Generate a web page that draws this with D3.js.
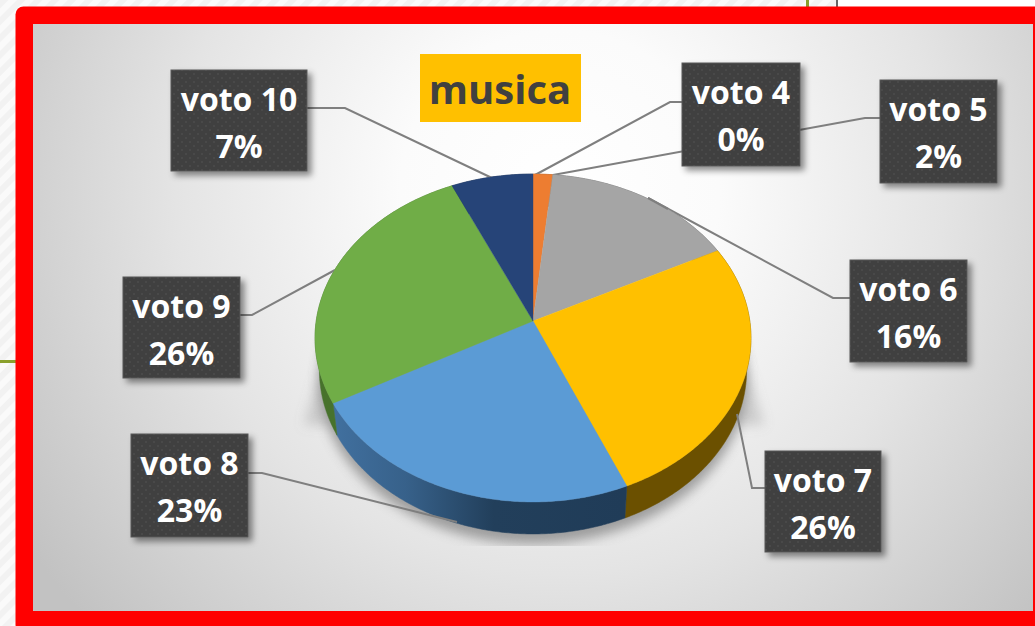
<!DOCTYPE html>
<html><head><meta charset="utf-8">
<script src="https://cdn.jsdelivr.net/npm/d3@7/dist/d3.min.js"></script>
<style>html,body{margin:0;padding:0;background:#fff;overflow:hidden}svg{display:block}</style>
</head><body><div id="chart"></div>
<script>
const categories = ["voto 4","voto 5","voto 6","voto 7","voto 8","voto 9","voto 10"];
const values = [0,1.6,15.9,26.1,23.4,26.3,6.7];
const topColors = ["#4472c4","#ed7d31","#a5a5a5","#ffc000","#5b9bd5","#70ad47","#264478"];
const sideColors = ["#2a4474","#8f4b1d","#636363","#6b5000","url(#blueSide)","#47722c","#162a4a"];
const title = "musica";

// label box layout: x, y, w, h
const boxes = [[682,63,118,103],[880,80,117,103],[850,260,117,102],[765,451,116,101],[131,434,117,103],[123,277,117,101],[171,70,136,101]];
// leader polylines
const leaders = [
  [[682,102],[670,102],[535,175]],
  [[880,118],[865,118],[553,175]],
  [[850,298],[833,298],[648,198]],
  [[765,488],[752,488],[737,414]],
  [[248,473],[262,473],[457,522]],
  [[240,315],[252,315],[335,270]],
  [[307,108],[345,108],[492,178]]
];

const W=1035,H=626;
const cx=533, cy=321, R=216.8, S=162.2, k=0.1037, depth=32, shrink=0.98;
const sx=d3.scaleLinear().domain([-1,1]).range([cx-R,cx+R]);
const sy=d3.scaleLinear().domain([-1,1]).range([cy-S,cy+S]);
const project=a=>{const X=Math.sin(a),Y=-Math.cos(a),d=1-k*Y;return [sx(X/d),sy(Y/d)];};
const lower=p=>[cx+(p[0]-cx)*shrink,p[1]+depth];
const line=d3.line();
const arcs=d3.pie().sort(null).value(d=>d)(values);
const steps=(a,b)=>{const n=Math.max(2,Math.ceil((b-a)/0.01));return d3.range(n+1).map(i=>a+(b-a)*i/n);};

const svg=d3.select("#chart").append("svg").attr("width",W).attr("height",H);
const defs=svg.append("defs");
const hatch=defs.append("pattern").attr("id","hatch").attr("width",12).attr("height",12).attr("patternUnits","userSpaceOnUse").attr("patternTransform","rotate(-45)");
hatch.append("rect").attr("width",12).attr("height",12).attr("fill","#fafafa");
hatch.append("rect").attr("width",12).attr("height",6).attr("fill","#f2f2f2");
const dots=defs.append("pattern").attr("id","dots").attr("width",8).attr("height",8).attr("patternUnits","userSpaceOnUse");
dots.append("rect").attr("width",8).attr("height",8).attr("fill","#3f3f3f");
dots.append("circle").attr("cx",2).attr("cy",2).attr("r",1).attr("fill","#4d4d4d");
dots.append("circle").attr("cx",6).attr("cy",6).attr("r",1).attr("fill","#4d4d4d");
const bg=defs.append("radialGradient").attr("id","panel").attr("gradientUnits","userSpaceOnUse").attr("cx",560).attr("cy",190).attr("r",640);
[[0,"#ffffff"],[0.25,"#fbfbfb"],[0.6,"#e4e4e4"],[1,"#c2c2c2"]].forEach(s=>bg.append("stop").attr("offset",s[0]).attr("stop-color",s[1]));
const bs=defs.append("linearGradient").attr("id","blueSide").attr("gradientUnits","userSpaceOnUse").attr("x1",333).attr("x2",625).attr("y1",0).attr("y2",0);
[[0,"#41709f"],[0.25,"#37618a"],[0.55,"#223f5b"],[1,"#203c58"]].forEach(s=>bs.append("stop").attr("offset",s[0]).attr("stop-color",s[1]));
const sg=defs.append("linearGradient").attr("id","shadowFade").attr("x1",0).attr("x2",0).attr("y1",0).attr("y2",1);
[[0,0],[0.5,0.3],[1,0.32]].forEach(s=>sg.append("stop").attr("offset",s[0]).attr("stop-color","#888").attr("stop-opacity",s[1]));
defs.append("filter").attr("id","blur").attr("x","-20%").attr("y","-20%").attr("width","140%").attr("height","140%").append("feGaussianBlur").attr("stdDeviation",6);
const ds=defs.append("filter").attr("id","boxShadow").attr("x","-20%").attr("y","-20%").attr("width","140%").attr("height","140%");
ds.append("feDropShadow").attr("dx",4).attr("dy",4).attr("stdDeviation",3).attr("flood-color","#000").attr("flood-opacity",0.45);
defs.append("clipPath").attr("id","shadowClip").append("rect").attr("x",290).attr("y",320).attr("width",490).attr("height",226);

// page behind the frame
svg.append("rect").attr("width",W).attr("height",H).attr("fill","url(#hatch)");
svg.append("rect").attr("x",838).attr("width",W-838).attr("height",10).attr("fill","#fff");
svg.append("rect").attr("x",806).attr("width",3).attr("height",10).attr("fill","#8aa02c");
svg.append("rect").attr("x",836).attr("width",2).attr("height",10).attr("fill","#666");
svg.append("rect").attr("x",0).attr("y",360).attr("width",20).attr("height",3).attr("fill","#8aa02c");

// frame and panel
svg.append("rect").attr("x",15.5).attr("y",6.5).attr("width",W).attr("height",H).attr("rx",8).attr("fill","#ff0000");
svg.append("rect").attr("x",33).attr("y",24).attr("width",1000).attr("height",587).attr("fill","url(#panel)");

// pie shadow
const rimAll=steps(0,2*Math.PI).map(project);
const shadowG=svg.append("g").attr("clip-path","url(#shadowClip)");
shadowG.append("path").attr("d",line([[332,330],[736,330],[764,425],[304,425]])+"Z").attr("fill","url(#shadowFade)").attr("filter","url(#blur)");
shadowG.append("path").attr("d",line(rimAll.map(p=>[cx+(p[0]-cx)*0.98,p[1]+depth+10]))+"Z").attr("fill","#8a8a8a").attr("opacity",0.8).attr("filter","url(#blur)");

// side wall
arcs.forEach((d,i)=>{
  const rim=steps(d.startAngle,d.endAngle).map(project);
  if(d.endAngle===d.startAngle)return;
  svg.append("path").attr("d",line(rim.concat(rim.map(lower).reverse()))+"Z").attr("fill",sideColors[i]).attr("stroke",sideColors[i]).attr("stroke-width",0.5);
});

// leaders (under the boxes, over the background)
svg.append("g").selectAll("path").data(leaders).join("path").attr("d",d=>line(d)).attr("fill","none").attr("stroke","#7f7f7f").attr("stroke-width",2);

// top face
arcs.forEach((d,i)=>{
  if(d.endAngle===d.startAngle)return;
  const rim=steps(d.startAngle,d.endAngle).map(project);
  svg.append("path").attr("d",line([[sx(0),sy(0)]].concat(rim))+"Z").attr("fill",topColors[i]).attr("stroke",topColors[i]).attr("stroke-width",0.4);
});
// leader end that sits on top of the pie
svg.append("path").attr("d",line([[648,198],[668,209]])).attr("fill","none").attr("stroke","#7f7f7f").attr("stroke-width",2);

// title
svg.append("rect").attr("x",420).attr("y",54).attr("width",161).attr("height",68).attr("fill","#ffc000");
svg.append("text").attr("x",500).attr("y",104).attr("text-anchor","middle").attr("font-family","'Open Sans'").attr("font-weight",700).attr("font-size",40).attr("fill","#404040").text(title);

// data labels
const lab=svg.append("g").selectAll("g").data(categories).join("g");
lab.append("rect").attr("x",(d,i)=>boxes[i][0]).attr("y",(d,i)=>boxes[i][1]).attr("width",(d,i)=>boxes[i][2]).attr("height",(d,i)=>boxes[i][3]).attr("fill","url(#dots)").attr("stroke","#595959").attr("stroke-width",1).attr("filter","url(#boxShadow)");
lab.append("text").attr("x",(d,i)=>boxes[i][0]+boxes[i][2]/2).attr("y",(d,i)=>boxes[i][1]+41).attr("text-anchor","middle").attr("font-family","'Open Sans'").attr("font-weight",700).attr("font-size",32).attr("fill","#fff").text(d=>d);
lab.append("text").attr("x",(d,i)=>boxes[i][0]+boxes[i][2]/2).attr("y",(d,i)=>boxes[i][1]+88).attr("text-anchor","middle").attr("font-family","'Open Sans'").attr("font-weight",700).attr("font-size",32).attr("fill","#fff").text((d,i)=>Math.round(values[i])+"%");
</script></body></html>
